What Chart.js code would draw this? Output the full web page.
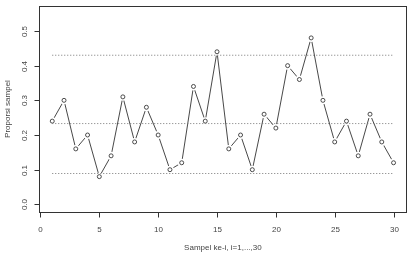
<!DOCTYPE html>
<html>
<head>
<meta charset="utf-8">
<title>Proporsi sampel</title>
<style>
  html, body { margin: 0; padding: 0; background: #fff; }
  #wrap { width: 412px; height: 253px; }
</style>
<script src="https://cdn.jsdelivr.net/npm/chart.js"></script>
</head>
<body>
<div id="wrap"><canvas id="chart" width="412" height="253"></canvas></div>
<script>
// data
const sampleNo = [1, 2, 3, 4, 5, 6, 7, 8, 9, 10, 11, 12, 13, 14, 15,
                  16, 17, 18, 19, 20, 21, 22, 23, 24, 25, 26, 27, 28, 29, 30];
const proportions = [0.24, 0.30, 0.16, 0.20, 0.08, 0.14, 0.31, 0.18, 0.28, 0.20,
                     0.10, 0.12, 0.34, 0.24, 0.44, 0.16, 0.20, 0.10, 0.26, 0.22,
                     0.40, 0.36, 0.48, 0.30, 0.18, 0.24, 0.14, 0.26, 0.18, 0.12];
const upperLimit = 0.43;
const centerLine = 0.233;
const lowerLimit = 0.089;
const xTicks = [0, 5, 10, 15, 20, 25, 30];
const yTicks = [0, 0.1, 0.2, 0.3, 0.4, 0.5];
const yTickLabels = ['0.0', '0.1', '0.2', '0.3', '0.4', '0.5'];

const FONT = '8px "Liberation Sans", Arial, sans-serif';

const points = sampleNo.map((x, i) => ({ x, y: proportions[i] }));
const limitLine = (v) => [{ x: sampleNo[0], y: v }, { x: sampleNo[sampleNo.length - 1], y: v }];

// R-style box, axes and titles
const rAxes = {
  id: 'rAxes',
  afterDraw(chart) {
    const ctx = chart.ctx;
    const a = chart.chartArea;
    const xs = chart.scales.x;
    const ys = chart.scales.y;
    const L = Math.round(a.left) + 0.5, R = Math.round(a.right) - 0.5;
    const T = Math.round(a.top) + 0.5, B = Math.round(a.bottom) + 0.5;
    ctx.save();
    ctx.strokeStyle = '#333';
    ctx.lineWidth = 1;
    ctx.strokeRect(L, T, R - L, B - T);

    ctx.fillStyle = '#444';
    ctx.font = FONT;

    // x axis
    const x0 = Math.round(xs.getPixelForValue(xTicks[0])) + 0.5;
    const x1 = Math.round(xs.getPixelForValue(xTicks[xTicks.length - 1])) + 0.5;
    ctx.beginPath();
    ctx.moveTo(x0, B); ctx.lineTo(x1, B);
    ctx.textAlign = 'center';
    ctx.textBaseline = 'middle';
    xTicks.forEach(t => {
      const px = Math.round(xs.getPixelForValue(t)) + 0.5;
      ctx.moveTo(px, B); ctx.lineTo(px, B + 5);
      ctx.fillText(String(t), px, B + 17);
    });
    ctx.stroke();

    // y axis
    const y0 = Math.round(ys.getPixelForValue(yTicks[0])) + 0.5;
    const y1 = Math.round(ys.getPixelForValue(yTicks[yTicks.length - 1])) + 0.5;
    ctx.beginPath();
    ctx.moveTo(L, y0); ctx.lineTo(L, y1);
    yTicks.forEach((t, i) => {
      const py = Math.round(ys.getPixelForValue(t)) + 0.5;
      ctx.moveTo(L, py); ctx.lineTo(L - 5, py);
      ctx.save();
      ctx.translate(L - 15, py);
      ctx.rotate(-Math.PI / 2);
      ctx.fillText(yTickLabels[i], 0, 0);
      ctx.restore();
    });
    ctx.stroke();

    // titles
    ctx.fillText('Sampel ke-i, i=1,...,30', (a.left + a.right) / 2, 248);
    ctx.save();
    ctx.translate(8, (a.top + a.bottom) / 2);
    ctx.rotate(-Math.PI / 2);
    ctx.fillText('Proporsi sampel', 0, 0);
    ctx.restore();
    ctx.restore();
  }
};

const limitStyle = {
  borderColor: '#777',
  borderWidth: 1,
  borderDash: [1, 2],
  pointRadius: 0,
  fill: false
};

new Chart(document.getElementById('chart'), {
  type: 'scatter',
  data: {
    datasets: [
      { label: 'UCL', data: limitLine(upperLimit), showLine: true, order: 0, ...limitStyle },
      { label: 'CL', data: limitLine(centerLine), showLine: true, order: 0, ...limitStyle },
      { label: 'LCL', data: limitLine(lowerLimit), showLine: true, order: 0, ...limitStyle },
      {
        label: 'circles', data: points, showLine: false, order: 1,
        pointRadius: 2, pointBorderWidth: 0.8,
        pointBorderColor: '#222', pointBackgroundColor: '#fff'
      },
      {
        // white halo, gives the gap between line and circle (type = "b")
        label: 'gap', data: points, showLine: false, order: 2,
        pointRadius: 4, pointBorderWidth: 0,
        pointBackgroundColor: '#fff'
      },
      {
        label: 'line', data: points, showLine: true, order: 3,
        borderColor: '#333', borderWidth: 0.9, pointRadius: 0, tension: 0
      }
    ]
  },
  options: {
    responsive: false,
    animation: false,
    events: [],
    layout: { padding: { left: 38.6, right: 1.6, top: 6, bottom: 41 } },
    plugins: { legend: { display: false }, tooltip: { enabled: false } },
    scales: {
      x: { type: 'linear', min: -0.16, max: 31.16, display: false },
      y: { type: 'linear', min: -0.022, max: 0.572, display: false }
    }
  },
  plugins: [rAxes]
});
</script>
</body>
</html>
